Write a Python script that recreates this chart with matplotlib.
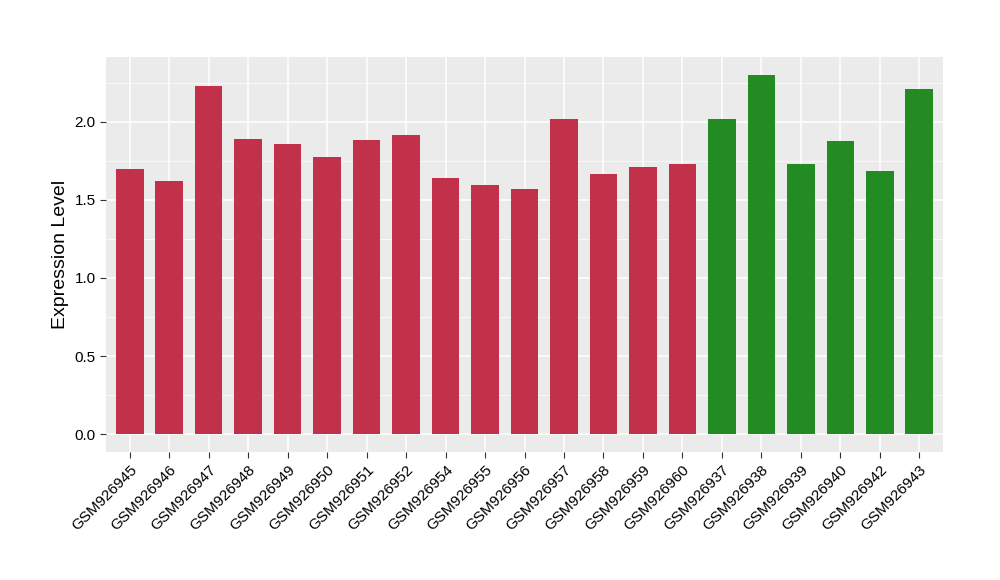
import numpy as np
import matplotlib.pyplot as plt

plt.rcParams['font.family'] = ['Liberation Sans', 'DejaVu Sans']

# Data
samples = ["GSM926945", "GSM926946", "GSM926947", "GSM926948", "GSM926949",
           "GSM926950", "GSM926951", "GSM926952", "GSM926954", "GSM926955",
           "GSM926956", "GSM926957", "GSM926958", "GSM926959", "GSM926960",
           "GSM926937", "GSM926938", "GSM926939", "GSM926940", "GSM926942",
           "GSM926943"]
values = [1.699, 1.622, 2.231, 1.891, 1.859, 1.776, 1.885, 1.917, 1.641, 1.596,
          1.571, 2.019, 1.667, 1.712, 1.731,
          2.021, 2.301, 1.731, 1.878, 1.686, 2.214]
groups = ["A"] * 15 + ["B"] * 6
group_colors = {"A": "#C2314A", "B": "#228B22"}

# -----------------------------
# Plot
# -----------------------------
fig = plt.figure(figsize=(10, 5.8), dpi=100)
ax = fig.add_axes([0.106, 0.2207, 0.837, 0.681])
ax.set_facecolor("#EBEBEB")

x = np.arange(len(samples))
ax.bar(x, values, width=0.7, color=[group_colors[g] for g in groups], zorder=3)

ymax = max(values)
ax.set_ylim(-0.05 * ymax, ymax * 1.05)
ax.set_xlim(-0.6, len(samples) - 0.4)

ax.set_yticks([0.0, 0.5, 1.0, 1.5, 2.0])
ax.set_yticklabels(["0.0", "0.5", "1.0", "1.5", "2.0"])
ax.set_yticks([0.25, 0.75, 1.25, 1.75, 2.25], minor=True)
ax.set_xticks(x)
ax.set_xticklabels(samples, rotation=45, ha="right", rotation_mode="anchor")

ax.grid(which="major", color="white", linewidth=1.1, zorder=0)
ax.grid(which="minor", axis="y", color="white", linewidth=0.5, zorder=0)
ax.tick_params(which="major", length=4, color="#333333", labelsize=11,
               labelcolor="black", width=0.8)
ax.tick_params(which="minor", length=0)
for s in ax.spines.values():
    s.set_visible(False)

ax.set_ylabel("Expression Level", fontsize=14)

fig.savefig("out.png", dpi=100)
